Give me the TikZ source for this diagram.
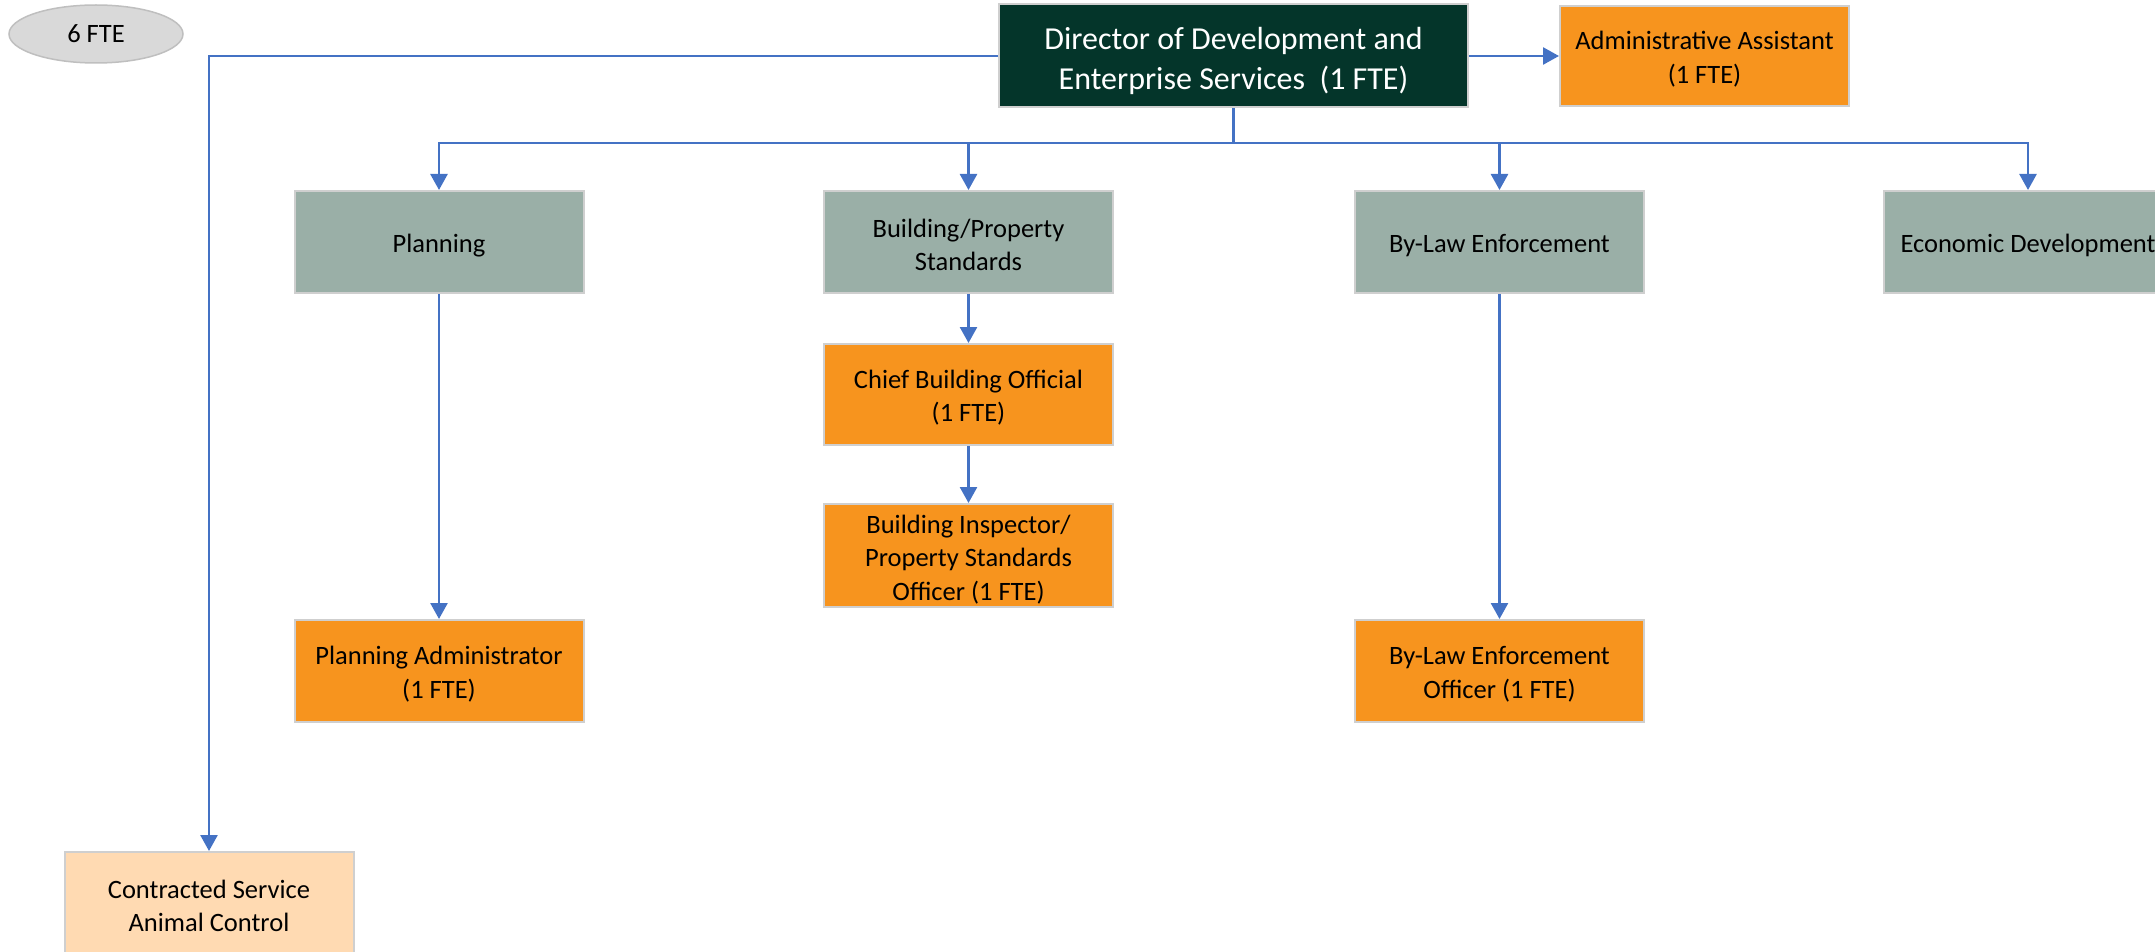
\documentclass[tikz,border=0pt]{standalone}
\usepackage{fontspec}
\setmainfont{Carlito}
\usetikzlibrary{arrows.meta,shapes.geometric}
\definecolor{dirgreen}{HTML}{04352A}
\definecolor{orgbox}{HTML}{F7941E}
\definecolor{greybox}{HTML}{9AAFA7}
\definecolor{peachbox}{HTML}{FFDAB2}
\definecolor{linkblue}{HTML}{4472C4}
\definecolor{boxedge}{HTML}{CFCFCF}
\definecolor{ellfill}{HTML}{D9D9D9}
\definecolor{elledge}{HTML}{BFBFBF}
\tikzset{
  basebox/.style={rectangle, draw=boxedge, line width=2pt, minimum width=289pt, minimum height=102pt, inner sep=0pt},
  lbl/.style={align=center, inner sep=0pt, yshift=-3pt, font=\fontsize{26.5}{33.5}\selectfont},
  lblone/.style={lbl, yshift=-0.75pt},
  dirlbl/.style={lbl, yshift=-2pt, text=white, font=\fontsize{32}{40}\selectfont},
  dirbox/.style={basebox, fill=dirgreen, minimum width=469pt, minimum height=103pt},
  orgnode/.style={basebox, fill=orgbox},
  deptbox/.style={basebox, fill=greybox},
  contbox/.style={basebox, fill=peachbox},
  link/.style={draw=linkblue, line width=2.6pt},
  arr/.style={link, -{Triangle[width=17pt,length=16pt]}},
}
\begin{document}
\begin{tikzpicture}[x=1pt,y=-1pt]
\useasboundingbox (0,0) rectangle (2155,952);
\node[ellipse, fill=ellfill, draw=elledge, line width=1.5pt, minimum width=174pt, minimum height=58pt, inner sep=0pt, font=\fontsize{26.5}{33}\selectfont] (fte) at (96,34) {6 FTE};
\node[dirbox, label={[dirlbl]center:{Director of Development and\\Enterprise Services\ \ (1 FTE)}}] (dir) at (1233.5,56) {};
\node[orgnode, minimum height=100pt, label={[lbl]center:{Administrative Assistant\\(1 FTE)}}] (admin) at (1704.5,56) {};
\node[deptbox, label={[lblone]center:{Planning}}] (plan) at (439,242) {};
\node[deptbox, label={[lbl]center:{Building/Property\\Standards}}] (bldg) at (968.5,242) {};
\node[deptbox, label={[lblone]center:{By-Law Enforcement}}] (bylaw) at (1499.5,242) {};
\node[deptbox, label={[lblone]center:{Economic Development}}] (econ) at (2028,242) {};
\node[orgnode, minimum height=101pt, label={[lbl]center:{Chief Building Official\\(1 FTE)}}] (chief) at (968.5,394.5) {};
\node[orgnode, minimum height=103pt, label={[lbl, yshift=-1pt]center:{Building Inspector/\\Property Standards\\Officer (1 FTE)}}] (insp) at (968.5,555.5) {};
\node[orgnode, label={[lbl]center:{Planning Administrator\\(1 FTE)}}] (padmin) at (439,671) {};
\node[orgnode, label={[lbl]center:{By-Law Enforcement\\Officer (1 FTE)}}] (bofficer) at (1499.5,671) {};
\node[contbox, label={[lbl]center:{Contracted Service\\Animal Control}}] (contr) at (209,903) {};
\coordinate (bar) at (1233.5,143);
\draw[link] (dir.south) -- (bar);
\draw[arr] (bar) -| (plan.north);
\draw[arr] (bar) -| (bldg.north);
\draw[arr] (bar) -| (bylaw.north);
\draw[arr] (bar) -| (econ.north);
\draw[arr] (dir.east) -- (admin.west);
\draw[arr] (dir.west) -| (contr.north);
\draw[arr] (plan.south) -- (padmin.north);
\draw[arr] (bldg.south) -- (chief.north);
\draw[arr] (chief.south) -- (insp.north);
\draw[arr] (bylaw.south) -- (bofficer.north);
\end{tikzpicture}
\end{document}
